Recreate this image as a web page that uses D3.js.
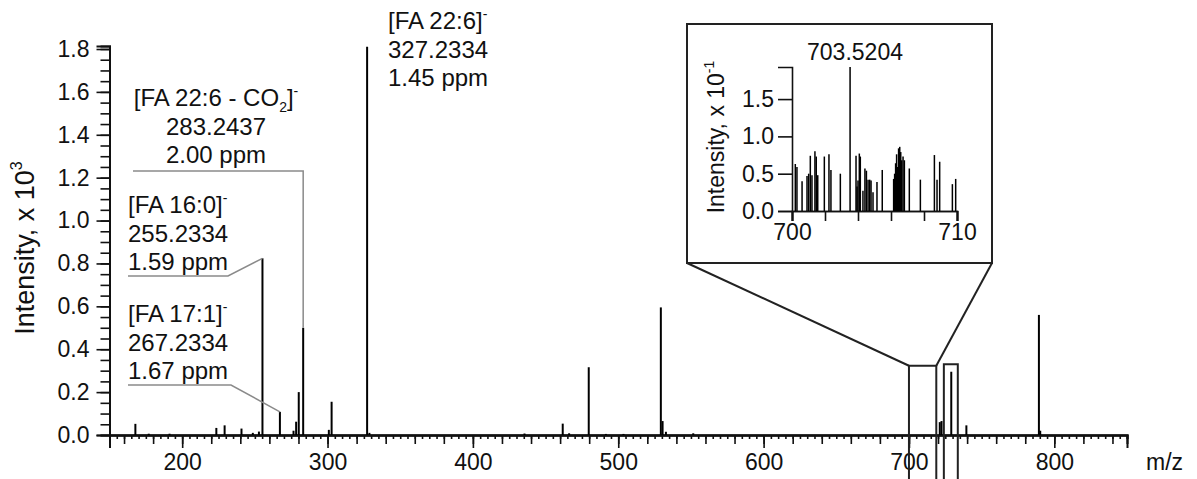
<!DOCTYPE html>
<html>
<head>
<meta charset="utf-8">
<script src="https://cdn.jsdelivr.net/npm/d3@7"></script>
<style>
  body { margin: 0; background: #fff; }
  text { font-family: "Liberation Sans", Arial, sans-serif; fill: #111; }
</style>
</head>
<body>
<svg id="chart" width="1197" height="479"></svg>
<script>
// main spectrum: m/z and intensity (x 10^3)
let peakMz = [167.8, 177, 191.3, 223.5, 229.2, 240.8, 248.6, 252.8, 255.23, 267.23,
              276.6, 278.4, 280.2, 283.24, 300.9, 302.8, 327.23, 328.8, 435.5, 461.8,
              466.2, 479.7, 491.5, 503.6, 529.3, 530.5, 532.8, 551.6, 721.2, 722.4,
              729.1, 739.5, 789.4, 790.3];
let peakInt = [0.052, 0.006, 0.006, 0.033, 0.045, 0.03, 0.01, 0.016, 0.824, 0.108,
               0.02, 0.062, 0.20, 0.50, 0.024, 0.155, 1.81, 0.01, 0.007, 0.053,
               0.008, 0.316, 0.005, 0.005, 0.595, 0.065, 0.015, 0.008, 0.06, 0.065,
               0.295, 0.045, 0.56, 0.02];

// inset spectrum 700-710: intensity (x 10^-1)
let insetMz = [700.20, 700.30, 700.61, 700.91, 701.01, 701.11, 701.21, 701.39, 701.47, 701.56,
               701.96, 702.24, 702.36, 702.93, 703.52, 703.88, 703.94, 704.00, 704.08, 704.14,
               704.30, 704.42, 704.51, 704.61, 704.71, 704.79, 704.91, 705.15, 705.47, 706.16,
               706.22, 706.28, 706.34, 706.40, 706.46, 706.53, 706.59, 706.65, 706.73, 706.81,
               707.11, 707.78, 708.63, 708.79, 708.95, 709.72, 709.92];
let insetInt = [0.63, 0.59, 0.40, 0.47, 0.50, 0.74, 0.48, 0.80, 0.73, 0.48,
                0.73, 0.76, 0.55, 0.50, 1.93, 0.74, 0.33, 0.41, 0.77, 0.73,
                0.27, 0.57, 0.54, 0.42, 0.42, 0.41, 0.25, 0.39, 0.55, 0.43,
                0.50, 0.64, 0.76, 0.59, 0.84, 0.86, 0.79, 0.68, 0.73, 0.68,
                0.57, 0.42, 0.75, 0.42, 0.66, 0.36, 0.43];

let yTicks = [0, 0.2, 0.4, 0.6, 0.8, 1.0, 1.2, 1.4, 1.6, 1.8];
let xTicks = [200, 300, 400, 500, 600, 700, 800];
let insetYTicks = [0, 0.5, 1.0, 1.5];
let insetXTicks = [700, 710];

// annotations: label, m/z text, ppm text, peak m/z, peak intensity
let annoLabel = ["[FA 22:6]", "[FA 22:6 - CO", "[FA 16:0]", "[FA 17:1]"];
let annoMass = ["327.2334", "283.2437", "255.2334", "267.2334"];
let annoPpm = ["1.45 ppm", "2.00 ppm", "1.59 ppm", "1.67 ppm"];
let annoPeak = [327.23, 283.24, 255.23, 267.23];
let annoPeakInt = [1.81, 0.50, 0.824, 0.108];

// zoom windows drawn on the main spectrum
let zoomFrom = [700, 724];
let zoomTo = [718.8, 733.6];
let zoomTop = [0.323, 0.33];

let svg = d3.select('#chart');
let fontSize = 23;
let annoSize = 24;

let x = d3.scaleLinear().domain([150, 850]).range([109.5, 1127]);
let y = d3.scaleLinear().domain([0, 1.814]).range([435, 46]);

// axes
let xAxisG = svg.append('g').attr('transform', 'translate(0,' + y(0) + ')');
xAxisG.append('g')
    .call(d3.axisBottom(x).tickValues(d3.range(150, 851, 5)).tickSize(4).tickFormat(''));
xAxisG.append('g')
    .call(d3.axisBottom(x).tickValues(d3.range(160, 851, 20)).tickSize(9).tickFormat(''));
xAxisG.append('g')
    .call(d3.axisBottom(x).tickValues(xTicks).tickSize(13).tickPadding(6).tickFormat(d3.format('d')));

let yAxisG = svg.append('g').attr('transform', 'translate(' + x(150) + ',0)');
yAxisG.append('g')
    .call(d3.axisLeft(y).tickValues(d3.range(0, 1.81, 0.05)).tickSize(9).tickFormat(''));
yAxisG.append('g')
    .call(d3.axisLeft(y).tickValues(yTicks).tickSize(13).tickPadding(7).tickFormat(d3.format('.1f')));

svg.selectAll('.domain').attr('stroke', '#111').attr('stroke-width', 2);
svg.selectAll('.tick line').attr('stroke', '#111').attr('stroke-width', 1.6);
svg.selectAll('.tick text').attr('font-size', fontSize).attr('fill', '#111')
    .attr('font-family', '"Liberation Sans", Arial, sans-serif');

// peaks
svg.append('g').selectAll('line')
    .data(peakMz)
    .enter()
    .append('line')
    .attr('x1', d => x(d)).attr('x2', d => x(d))
    .attr('y1', y(0))
    .attr('y2', (d, i) => y(peakInt[i]))
    .attr('stroke', '#000')
    .attr('stroke-width', 2);

// axis titles
svg.append('text')
    .attr('transform', 'translate(34,' + 248 + ') rotate(-90)')
    .attr('text-anchor', 'middle')
    .attr('font-size', 27)
    .text('Intensity, x 10')
    .append('tspan').attr('font-size', 16).attr('dy', -12).text('3');

svg.append('text')
    .attr('x', 1146).attr('y', 470)
    .attr('font-size', fontSize)
    .text('m/z');

// annotation leaders (gray)
let leaderG = svg.append('g')
    .attr('fill', 'none')
    .attr('stroke', '#8a8a8a')
    .attr('stroke-width', 1.5);

leaderG.append('path')
    .attr('d', 'M133,171 H' + x(annoPeak[1]) + ' V' + y(annoPeakInt[1]));
leaderG.append('path')
    .attr('d', 'M128,276 H228 L' + x(annoPeak[2]) + ',' + y(annoPeakInt[2]));
leaderG.append('path')
    .attr('d', 'M128,385 H231 L' + x(annoPeak[3]) + ',' + y(annoPeakInt[3]));

// annotation text
function annotate(i, ax, firstBase, anchor) {
    let g = svg.append('g').attr('font-size', annoSize);
    let t = g.append('text').attr('x', ax).attr('y', firstBase).attr('text-anchor', anchor);
    t.append('tspan').text(annoLabel[i]);
    if (i === 1) {
        t.append('tspan').attr('font-size', 14).attr('dy', 6).text('2');
        t.append('tspan').attr('dy', -6).text(']');
    }
    t.append('tspan').attr('font-size', 14).attr('dy', -10).text('-');
    g.append('text').attr('x', ax).attr('y', firstBase + 29).attr('text-anchor', anchor).text(annoMass[i]);
    g.append('text').attr('x', ax).attr('y', firstBase + 57).attr('text-anchor', anchor).text(annoPpm[i]);
}
annotate(0, 388, 29, 'start');
annotate(1, 216, 106, 'middle');
annotate(2, 128, 213, 'start');
annotate(3, 128, 322, 'start');

// zoom windows
let frameG = svg.append('g').attr('fill', 'none').attr('stroke', '#222').attr('stroke-width', 2);
zoomFrom.forEach(function(m, i) {
    frameG.append('path')
        .attr('d', 'M' + x(m) + ',479 V' + y(zoomTop[i]) + ' H' + x(zoomTo[i]) + ' V479');
});

// inset box
let box = {l: 687, t: 24, r: 992, b: 263};
frameG.append('rect')
    .attr('x', box.l).attr('y', box.t)
    .attr('width', box.r - box.l).attr('height', box.b - box.t)
    .attr('fill', '#fff');
frameG.append('line')
    .attr('x1', box.l).attr('y1', box.b).attr('x2', x(zoomFrom[0])).attr('y2', y(zoomTop[0]));
frameG.append('line')
    .attr('x1', box.r).attr('y1', box.b).attr('x2', x(zoomTo[0])).attr('y2', y(zoomTop[0]));

// inset chart
let ix = d3.scaleLinear().domain([700, 710]).range([792, 957]);
let iy = d3.scaleLinear().domain([0, 1.93]).range([211, 67]);

let inset = svg.append('g');
inset.append('g')
    .attr('transform', 'translate(0,' + iy(0) + ')')
    .call(d3.axisBottom(ix).tickValues(d3.range(700, 711, 2)).tickSize(10).tickFormat(''));
inset.append('g')
    .attr('transform', 'translate(0,' + iy(0) + ')')
    .call(d3.axisBottom(ix).tickValues(insetXTicks).tickSize(10).tickPadding(3).tickFormat(d3.format('d')));
inset.append('g')
    .attr('transform', 'translate(' + ix(700) + ',0)')
    .call(d3.axisLeft(iy).tickValues(insetYTicks).tickSize(14).tickPadding(4).tickFormat(d3.format('.1f')));

inset.selectAll('.domain').attr('stroke', '#111').attr('stroke-width', 1.6);
inset.selectAll('.tick line').attr('stroke', '#111').attr('stroke-width', 1.6);
inset.selectAll('.tick text').attr('font-size', fontSize).attr('fill', '#111')
    .attr('font-family', '"Liberation Sans", Arial, sans-serif');

inset.append('g').selectAll('line')
    .data(insetMz)
    .enter()
    .append('line')
    .attr('x1', d => ix(d)).attr('x2', d => ix(d))
    .attr('y1', iy(0))
    .attr('y2', (d, i) => iy(insetInt[i]))
    .attr('stroke', '#000')
    .attr('stroke-width', 1.5);

inset.append('text')
    .attr('x', 855).attr('y', 60)
    .attr('text-anchor', 'middle')
    .attr('font-size', fontSize)
    .text('703.5204');

let iLabel = inset.append('text')
    .attr('transform', 'translate(724,137) rotate(-90)')
    .attr('text-anchor', 'middle')
    .attr('font-size', fontSize)
    .text('Intensity, x 10');
iLabel.append('tspan').attr('font-size', 14).attr('dy', -10).text('-1');
</script>
</body>
</html>
